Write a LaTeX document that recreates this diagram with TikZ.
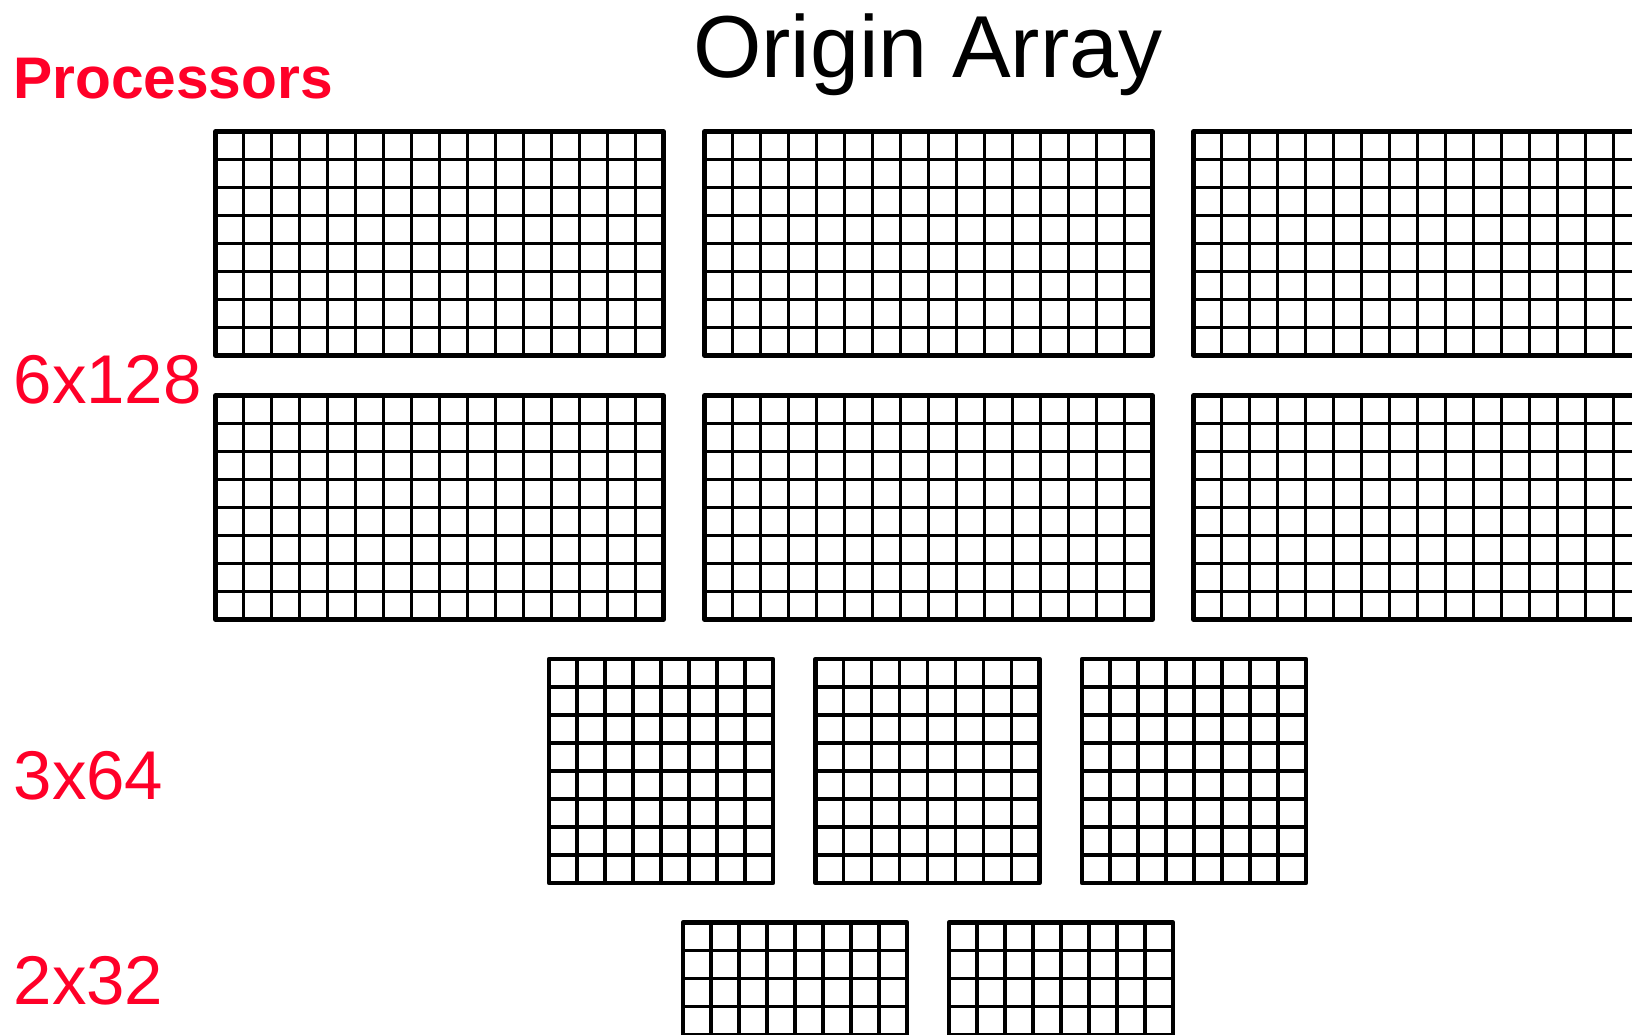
\documentclass[tikz,border=0pt]{standalone}
\usepackage{fontspec}
\setmainfont{Liberation Sans}
\definecolor{lblred}{RGB}{255,0,40}
\newcommand\arraygrid[4]{% x, y (top-left), cols, rows
  \pgfmathsetmacro\gw{#3*28}\pgfmathsetmacro\gh{#4*28}
  \foreach \i in {1,...,\numexpr#3-1\relax}{\draw[inner] ({#1+\i*28},#2) -- ++(0,\gh);}
  \foreach \j in {1,...,\numexpr#4-1\relax}{\draw[inner] (#1,{#2+\j*28}) -- ++(\gw,0);}
  \draw[outer] (#1,#2) rectangle ++(\gw,\gh);
}
\begin{document}
\begin{tikzpicture}[x=1pt,y=-1pt,
  inner/.style={line width=3.2pt,black},
  outer/.style={line width=4.8pt,black,line join=round},
  lbl/.style={anchor=base west,inner sep=0pt,text=lblred,font=\fontsize{69}{69}\selectfont},
  ttl/.style={anchor=base west,inner sep=0pt,font=\fontsize{88}{88}\selectfont}]
\useasboundingbox (0,0) rectangle (1632,1034);
\clip (0,0) rectangle (1632,1034);
\fill[white] (0,0) rectangle (1632,1034);
% titles and labels
\node[ttl] (title) at (693,77) {Origin Array};
\node[anchor=base west,inner sep=0pt,text=lblred,font=\fontsize{58.7}{58.7}\selectfont\bfseries] (proc) at (13,98) {Processors};
\node[lbl] (l6) at (13.5,403) {6x128};
\node[lbl] (l3) at (13.5,799) {3x64};
\node[lbl] (l2) at (13.5,1004) {2x32};
% 6 arrays 16x8
\arraygrid{215.5}{131.5}{16}{8}
\arraygrid{704.5}{131.5}{16}{8}
\arraygrid{1193.5}{131.5}{16}{8}
\arraygrid{215.5}{395.5}{16}{8}
\arraygrid{704.5}{395.5}{16}{8}
\arraygrid{1193.5}{395.5}{16}{8}
% 3 arrays 8x8
\arraygrid{549}{659}{8}{8}
\arraygrid{815.5}{659}{8}{8}
\arraygrid{1082}{659}{8}{8}
% 2 arrays
\arraygrid{683}{922.5}{8}{8}
\arraygrid{949}{922.5}{8}{8}
\end{tikzpicture}
\end{document}
